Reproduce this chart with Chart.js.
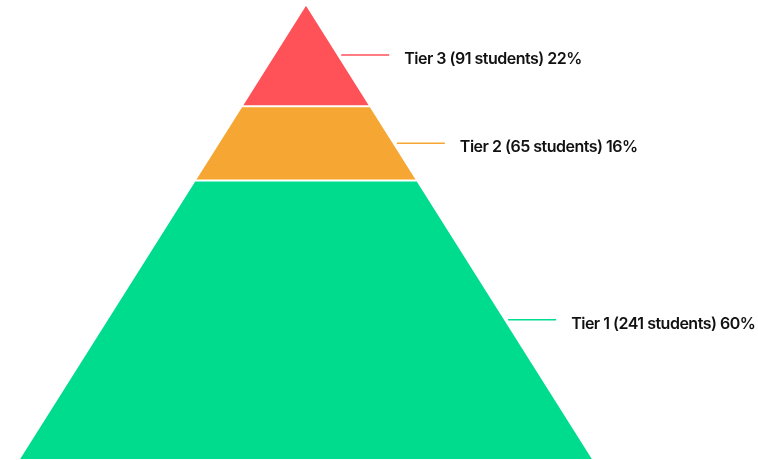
<!DOCTYPE html>
<html>
<head>
<meta charset="utf-8">
<title>Student tiers</title>
<script src="https://cdn.jsdelivr.net/npm/chart.js@4/dist/chart.umd.min.js"></script>
<style>
  html, body { margin: 0; padding: 0; background: #ffffff; }
  #wrap { width: 758px; height: 460px; position: relative; }
</style>
</head>
<body>
<div id="wrap"><canvas id="pyramid"></canvas></div>
<script>
// Tiers from the base of the pyramid upward
const tiers = ['Tier 1', 'Tier 2', 'Tier 3'];
const students = [241, 65, 91];
const percents = [60, 16, 22];
const tierColors = ['#00DC8E', '#F5A633', '#FF5258'];

const total = percents.reduce((a, b) => a + b, 0);
// half-width of the pyramid at a given height (in percent units)
const halfWidth = v => (total - v) / total;

const starts = [];
percents.reduce((acc, p, i) => { starts[i] = acc; return acc + p; }, 0);

const datasets = tiers.map((t, i) => {
  const y0 = starts[i];
  const y1 = y0 + percents[i];
  return {
    label: t,
    data: [
      { x: -halfWidth(y0), y: y0 },
      { x: -halfWidth(y1), y: y1 },
      { x: halfWidth(y1), y: y1 },
      { x: halfWidth(y0), y: y0 }
    ],
    showLine: true,
    fill: { value: y0 },
    backgroundColor: tierColors[i],
    borderColor: '#ffffff',
    borderWidth: 2,
    pointRadius: 0,
    pointHoverRadius: 0,
    tension: 0
  };
});

// Leader lines and tier captions to the right of each band
const tierLabels = {
  id: 'tierLabels',
  afterDatasetsDraw(chart) {
    const { ctx, scales: { x, y } } = chart;
    ctx.save();
    tiers.forEach((t, i) => {
      const mid = starts[i] + percents[i] / 2;
      const py = y.getPixelForValue(mid);
      const edge = x.getPixelForValue(halfWidth(mid));
      ctx.strokeStyle = tierColors[i];
      ctx.lineWidth = 1.5;
      ctx.beginPath();
      ctx.moveTo(edge + 3, py);
      ctx.lineTo(edge + 51, py);
      ctx.stroke();
      ctx.fillStyle = '#111111';
      ctx.font = '600 16px Inter, "Open Sans", sans-serif';
      ctx.letterSpacing = '-0.5px';
      ctx.textAlign = 'left';
      ctx.textBaseline = 'middle';
      ctx.fillText(`${t} (${students[i]} students) ${percents[i]}%`, edge + 66, py + 4);
    });
    ctx.restore();
  }
};

new Chart(document.getElementById('pyramid'), {
  type: 'scatter',
  data: { datasets },
  options: {
    responsive: true,
    maintainAspectRatio: false,
    animation: false,
    layout: { padding: { left: 19, right: 165, top: 4, bottom: 1 } },
    scales: {
      x: { type: 'linear', min: -1, max: 1, display: false },
      y: { type: 'linear', min: 0, max: total, display: false }
    },
    plugins: {
      legend: { display: false },
      tooltip: { enabled: false }
    },
    events: []
  },
  plugins: [tierLabels]
});
</script>
</body>
</html>
